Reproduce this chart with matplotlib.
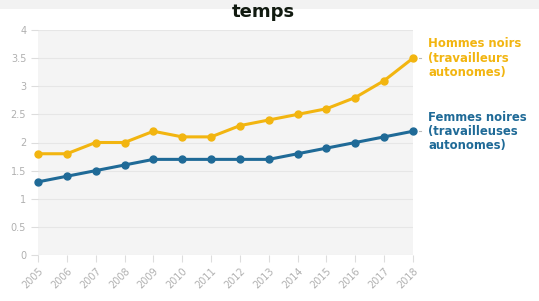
import matplotlib.pyplot as plt
import matplotlib.patches as mpatches

years = list(range(2005, 2019))
hommes = [1.8, 1.8, 2.0, 2.0, 2.2, 2.1, 2.1, 2.3, 2.4, 2.5, 2.6, 2.8, 3.1, 3.5]
femmes = [1.3, 1.4, 1.5, 1.6, 1.7, 1.7, 1.7, 1.7, 1.7, 1.8, 1.9, 2.0, 2.1, 2.2]
yticks = [0, 0.5, 1, 1.5, 2, 2.5, 3, 3.5, 4]
ytick_labels = ["0", "0.5", "1", "1.5", "2", "2.5", "3", "3.5", "4"]
label_h = "Hommes noirs\n(travailleurs\nautonomes)"
label_f = "Femmes noires\n(travailleuses\nautonomes)"
title = "temps"

YELLOW = "#f2b510"
BLUE = "#1f6a97"

W, H = 539, 301
fig = plt.figure(figsize=(W / 100, H / 100), dpi=100)
fig.patch.set_facecolor("white")
fig.patches.append(mpatches.Rectangle((0, 1 - 9 / H), 1, 9 / H, transform=fig.transFigure,
                                      facecolor="#f2f2f2", edgecolor="none", zorder=0))
fig.text(263 / W, 1 - 12 / H, title, ha="center", va="center", fontsize=13,
         fontweight="bold", color="#111a10", family="DejaVu Sans")

ax = fig.add_axes([38 / W, 1 - 255 / H, (413 - 38) / W, (255 - 30) / H])
ax.set_facecolor("#f4f4f4")
ax.set_xlim(2005, 2018)
ax.set_ylim(0, 4)
for s in ax.spines.values():
    s.set_visible(False)
ax.set_yticks(yticks)
ax.set_yticklabels(ytick_labels)
ax.set_xticks(years)
ax.set_xticklabels([str(y) for y in years], rotation=45, ha="right", rotation_mode="anchor")
ax.tick_params(axis="both", colors="#dddddd", labelcolor="#b0b0b0", labelsize=7, length=5, width=0.8)
ax.tick_params(axis="x", pad=3)
ax.grid(axis="y", color="#e6e6e6", linewidth=0.8)
ax.set_axisbelow(True)

ax.plot(years, hommes, color=YELLOW, lw=2.2, marker="o", ms=5, clip_on=False, zorder=3)
ax.plot(years, femmes, color=BLUE, lw=2.2, marker="o", ms=5, clip_on=False, zorder=3)

for vals, lab, col in [(hommes, label_h, YELLOW), (femmes, label_f, BLUE)]:
    ax.annotate(lab, xy=(2018, vals[-1]), xytext=(11, 0), textcoords="offset points",
                ha="left", va="center", fontsize=8.4, fontweight="bold", color=col,
                linespacing=1.12, annotation_clip=False)
    ax.plot([2018.2, 2018.27], [vals[-1], vals[-1]], color="#bbbbbb", lw=0.8, clip_on=False)

fig.savefig("out.png", dpi=100)
